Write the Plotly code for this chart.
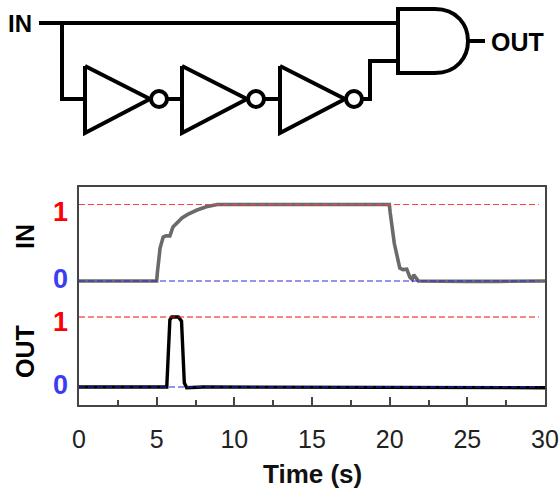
import plotly.graph_objects as go

W, H = 560, 491
L, R, T, B = 79, 545, 186.5, 405

time_in = [0, 1, 2, 3, 4, 5.0, 5.04, 5.08, 5.22, 5.42, 5.6, 5.85, 6.05, 6.63, 7.0, 7.6, 8.2, 8.9,
           10, 12, 14, 16, 18, 19.98, 20.03, 20.1, 20.3, 20.65, 20.85, 21.1, 21.3, 21.45, 21.55,
           21.85, 23, 25, 27, 29, 30]
in_values = [0, 0, -0.005, 0, 0, 0, 0.1, 0.2, 0.43, 0.575, 0.59, 0.59, 0.706, 0.824, 0.87, 0.928, 0.97, 1.0,
             1.0, 1.005, 1.0, 1.0, 1.0, 1.0, 0.9, 0.79, 0.49, 0.17, 0.15, 0.155, 0.05, 0.02, 0.08,
             0.0, -0.005, -0.005, -0.005, -0.005, 0]
time_out = [0, 2, 4, 5.65, 5.85, 5.97, 6.4, 6.6, 6.78, 6.93, 8, 12, 16, 20, 21, 24, 27, 30]
out_values = [0, 0, 0, 0, 0.96, 1.0, 1.0, 0.94, 0.06, -0.01, 0, 0, 0, 0, -0.01, -0.01, -0.01, -0.01]
ref_time = [0, 29.6]
ref_high = [1, 1]
ref_low = [0, 0]
x_ticks = [0, 5, 10, 15, 20, 25, 30]

# Schematic geometry in page pixels
wires = [
    ([39, 398], [23, 23]),
    ([62, 62, 85], [23, 99, 99]),
    ([167, 182], [99, 99]),
    ([265, 280], [99, 99]),
    ([363, 370, 370, 398], [99, 99, 61, 61]),
    ([468, 485], [41, 41]),
]
inverter_left = [85, 182, 280]
inverter_top, inverter_bottom, inverter_mid = 66, 133, 99
inverter_len = 65
bubble_r = 8

fig = go.Figure()
dash = dict(width=1.2, dash="6px,3px")

fig.add_trace(go.Scatter(x=time_in, y=in_values, mode="lines", line=dict(color="#6a6a6a", width=3.6)))
fig.add_trace(go.Scatter(x=ref_time, y=ref_high, mode="lines", line=dict(color="#ff4040", **dash)))
fig.add_trace(go.Scatter(x=ref_time, y=ref_low, mode="lines", line=dict(color="#2a2ae0", **dash)))
fig.add_trace(go.Scatter(x=time_out, y=out_values, yaxis="y2", mode="lines", line=dict(color="#000000", width=3.4)))
fig.add_trace(go.Scatter(x=ref_time, y=ref_high, yaxis="y2", mode="lines", line=dict(color="#f01010", **dash)))
fig.add_trace(go.Scatter(x=ref_time, y=ref_low, yaxis="y2", mode="lines", line=dict(color="#2a2ae0", **dash)))

ink = dict(color="black", width=4)
for xs, ys in wires:
    fig.add_trace(go.Scatter(x=xs, y=ys, xaxis="x2", yaxis="y3", mode="lines",
                             line=dict(color="black", width=4, shape="linear")))
for x0 in inverter_left:
    fig.add_trace(go.Scatter(x=[x0, x0, x0 + inverter_len, x0],
                             y=[inverter_top, inverter_bottom, inverter_mid, inverter_top],
                             xaxis="x2", yaxis="y3", mode="lines", line=dict(color="black", width=4)))
    cx = x0 + inverter_len + bubble_r + 1
    fig.add_shape(type="circle", xref="x2", yref="y3", x0=cx - bubble_r, x1=cx + bubble_r,
                  y0=inverter_mid - bubble_r, y1=inverter_mid + bubble_r,
                  line=ink, fillcolor="white")

fig.add_shape(type="path", xref="x2", yref="y3", path="M 398 9 L 435 9 C 479 9 479 73 435 73 L 398 73 Z", line=ink)


def note(text, x, y, size, color="black", bold=True, angle=0):
    fig.add_annotation(text=f"<b>{text}</b>" if bold else text, x=x, y=y, xref="x2", yref="y3",
                       showarrow=False, textangle=angle, xanchor="center", yanchor="middle",
                       font=dict(size=size, color=color, family="Liberation Sans"))


note("IN", 20, 23, 24)
note("OUT", 517, 42, 25)
note("IN", 25, 237, 25, angle=-90)
note("OUT", 25, 352, 25, angle=-90)
note("1", 60, 212, 27, color="#ff0000")
note("0", 60, 279, 27, color="#3c3cf0")
note("1", 60, 322, 27, color="#ff0000")
note("0", 60, 385, 27, color="#3c3cf0")
note("Time (s)", 312, 474, 26, color="#111111")

axis_line = dict(showline=True, linecolor="#444444", linewidth=2, showgrid=False, zeroline=False)
fig.update_layout(
    width=W, height=H, margin=dict(l=0, r=0, t=0, b=0, autoexpand=False), autosize=False,
    paper_bgcolor="white", plot_bgcolor="rgba(0,0,0,0)", showlegend=False,
    font=dict(family="Liberation Sans", color="#222222"),
    xaxis=dict(domain=[L / W, R / W], range=[0, 30], tickvals=x_ticks, ticks="inside", ticklen=8,
               tickwidth=2, tickcolor="#444444", mirror=True, ticklabelstandoff=11, ticklabeloverflow="allow",
               tickfont=dict(size=25), minor=dict(dtick=2.5, tick0=0, ticks="inside", ticklen=5, tickwidth=2,
                                                   tickcolor="#444444", showgrid=False), **axis_line),
    yaxis=dict(domain=[1 - B / H, 1 - T / H], range=[-1.62, 1.235], showticklabels=False, ticks="", mirror=True, **axis_line),
    yaxis2=dict(domain=[1 - B / H, 1 - T / H], range=[-0.257, 2.864], overlaying="y", showticklabels=False,
                showline=False, showgrid=False, zeroline=False, ticks=""),
    xaxis2=dict(domain=[0, 1], range=[0, W], visible=False, anchor="y3"),
    yaxis3=dict(domain=[0, 1], range=[H, 0], visible=False, anchor="x2"),
)
fig.write_html("out.html", config=dict(displayModeBar=False),
               post_script="document.body.style.margin='0';document.body.style.overflow='hidden';")
